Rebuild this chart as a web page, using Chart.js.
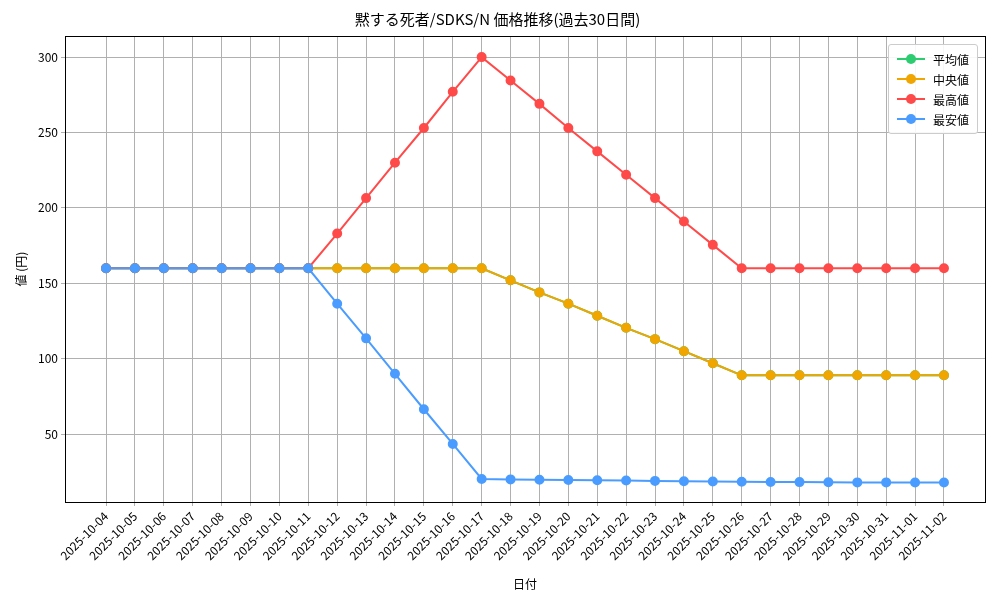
<!DOCTYPE html>
<html>
<head>
<meta charset="utf-8">
<script src="https://cdn.jsdelivr.net/npm/chart.js@4"></script>
<style>
  body { margin: 0; background: #fff; }
  #wrap { position: relative; width: 1000px; height: 600px; }
  #legend { position: absolute; right: 22px; top: 44px; border: 1px solid #ccc; border-radius: 3px;
    background: rgba(255,255,255,0.9); padding: 4px 8px; font: 12px "Noto Sans CJK JP"; }
  #legend div { display: flex; align-items: center; height: 20px; }
  #legend span.m { position: relative; width: 28px; height: 2px; margin-right: 8px; }
  #legend span.m i { position: absolute; left: 9px; top: -4px; width: 10px; height: 10px; border-radius: 50%; }
</style>
</head>
<body>
<div id="wrap"><canvas id="c" width="1000" height="600"></canvas><div id="legend"></div></div>
<script>
const dates = ["2025-10-04","2025-10-05","2025-10-06","2025-10-07","2025-10-08","2025-10-09","2025-10-10","2025-10-11","2025-10-12","2025-10-13","2025-10-14","2025-10-15","2025-10-16","2025-10-17","2025-10-18","2025-10-19","2025-10-20","2025-10-21","2025-10-22","2025-10-23","2025-10-24","2025-10-25","2025-10-26","2025-10-27","2025-10-28","2025-10-29","2025-10-30","2025-10-31","2025-11-01","2025-11-02"];
const meanVals = [160,160,160,160,160,160,160,160,160,160,160,160,160,160,152,144,136.5,128.5,120.5,113,105,97,89,89,89,89,89,89,89,89];
const medianVals = [160,160,160,160,160,160,160,160,160,160,160,160,160,160,152,144,136.5,128.5,120.5,113,105,97,89,89,89,89,89,89,89,89];
const maxVals = [160,160,160,160,160,160,160,160,183,206.5,230,253,277,300,284.5,269,253,237.5,222,206.5,191,175.5,160,160,160,160,160,160,160,160];
const minVals = [160,160,160,160,160,160,160,160,136.5,113.5,90,66.5,43.5,20.3,20,19.8,19.6,19.4,19.2,19,18.8,18.6,18.4,18.3,18.2,18.1,18,18,17.9,17.9];
const yTicks = [50,100,150,200,250,300];

const series = [
  { label: "平均値", data: meanVals, color: "#2ecc71", order: 4 },
  { label: "中央値", data: medianVals, color: "#f0a500", order: 3 },
  { label: "最高値", data: maxVals, color: "#ff4a4a", order: 2 },
  { label: "最安値", data: minVals, color: "#4a9cff", order: 1 }
];

const font = "'Noto Sans CJK JP', sans-serif";
Chart.defaults.font.family = font;
Chart.defaults.color = "#000";

document.getElementById("legend").innerHTML = series.map(s =>
  `<div><span class="m" style="background:${s.color}"><i style="background:${s.color}"></i></span>${s.label}</div>`).join("");

const frame = {
  id: "frame",
  afterDraw(ch) {
    const a = ch.chartArea, x = ch.ctx;
    x.save(); x.strokeStyle = "#000"; x.lineWidth = 1;
    x.strokeRect(a.left + 0.5, a.top + 0.5, a.width, a.height);
    x.restore();
  }
};

new Chart(document.getElementById("c"), {
  type: "line",
  data: {
    datasets: series.map(s => ({
      label: s.label, order: s.order,
      data: s.data.map((v, i) => ({ x: i, y: v })),
      borderColor: s.color, backgroundColor: s.color,
      borderWidth: 2, pointRadius: 4, pointHoverRadius: 4, tension: 0
    }))
  },
  options: {
    responsive: false, animation: false,
    layout: { padding: { left: 10, right: 15, top: 5, bottom: 8 } },
    plugins: {
      legend: { display: false },
      tooltip: { enabled: false },
      title: { display: true, text: "黙する死者/SDKS/N 価格推移(過去30日間)", font: { size: 15, weight: "normal" }, padding: { top: 5, bottom: 8 } }
    },
    scales: {
      x: {
        type: "linear", min: -1.42, max: 30.42,
        afterBuildTicks: ax => { ax.ticks = dates.map((d, i) => ({ value: i })); },
        afterFit: ax => { ax.height = 90; },
        ticks: { autoSkip: false, maxRotation: 45, minRotation: 45, font: { size: 12 },
          callback: v => dates[v] },
        grid: { color: "#b0b0b0", drawTicks: true, tickLength: 4 },
        border: { display: false },
        title: { display: true, text: "日付", font: { size: 12 }, padding: 0 }
      },
      y: {
        min: 5, max: 314,
        afterBuildTicks: ax => { ax.ticks = yTicks.map(v => ({ value: v })); },
        afterFit: ax => { ax.width = 55; },
        ticks: { font: { size: 12 } },
        grid: { color: "#b0b0b0", tickLength: 4 },
        border: { display: false },
        title: { display: true, text: "値 (円)", font: { size: 12 } }
      }
    }
  },
  plugins: [frame]
});
</script>
</body>
</html>
